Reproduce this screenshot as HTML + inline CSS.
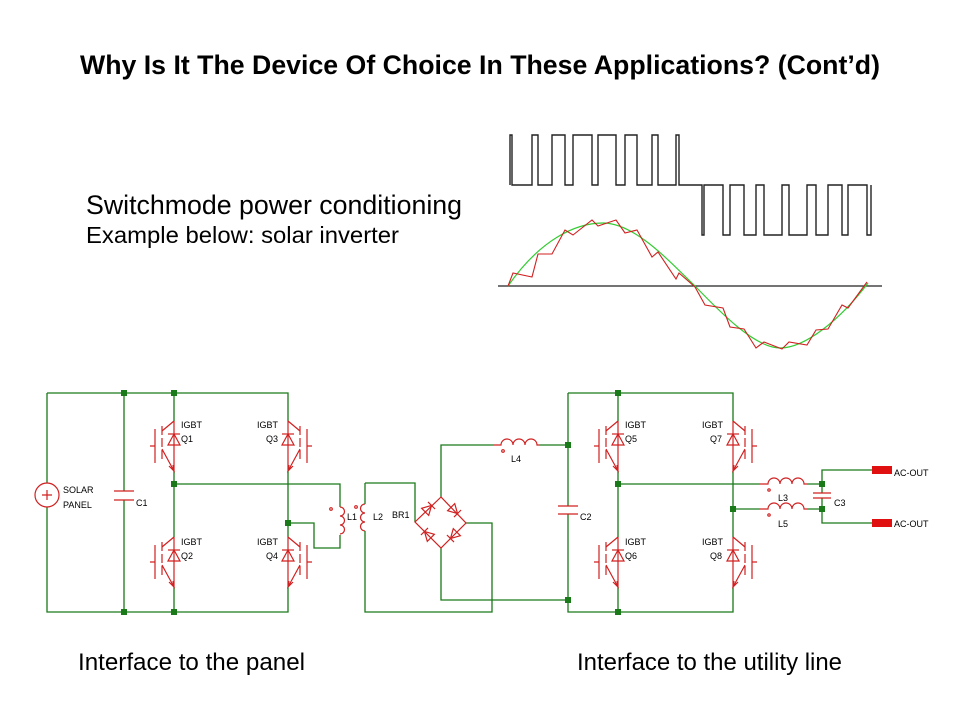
<!DOCTYPE html>
<html><head><meta charset="utf-8"><style>
body{margin:0;background:#fff;width:960px;height:720px;overflow:hidden}
svg{display:block}
.g{stroke:#1a7a1a;stroke-width:1.3;fill:none}
.r{stroke:#d02020;stroke-width:1.2;fill:none}
.t{font-family:"Liberation Sans",sans-serif;fill:#000}
.s{font-family:"Liberation Sans",sans-serif;font-size:9px;fill:#000}
</style></head><body>
<svg width="960" height="720" viewBox="0 0 960 720">
<defs>
<g id="ig">
<path class="r" d="M0,0V50M-12,10L0,0M-12,28L0,50M-5,45L0,50L-1,44M-12,5V14M-12,17V26M-12,29V38M-19,8V42M-24,25H-19"/>
<polygon points="0,13 -6,24 6,24" class="r"/>
<path class="r" d="M-6,13H6"/>
</g>
<g id="dd"><polygon points="0,-5 -5,4 5,4" class="r"/><path class="r" d="M-5,-5H5"/></g>
<rect id="nd" x="-3" y="-3" width="6" height="6" fill="#1a7a1a"/>
</defs>

<text class="t" x="480" y="74" font-size="26.5" font-weight="bold" text-anchor="middle" textLength="800" lengthAdjust="spacingAndGlyphs">Why Is It The Device Of Choice In These Applications? (Cont’d)</text>
<text class="t" x="86" y="214" font-size="27" textLength="376" lengthAdjust="spacingAndGlyphs">Switchmode power conditioning</text>
<text class="t" x="86" y="243" font-size="23" textLength="313" lengthAdjust="spacingAndGlyphs">Example below: solar inverter</text>
<text class="t" x="78" y="670" font-size="24" textLength="227" lengthAdjust="spacingAndGlyphs">Interface to the panel</text>
<text class="t" x="577" y="670" font-size="24" textLength="265" lengthAdjust="spacingAndGlyphs">Interface to the utility line</text>

<!-- square waves -->
<path fill="none" stroke="#222" stroke-width="1.4" d="M510,185V135H512V185H532V135H538V185H552V135H565V185H573V135H592V185H598V135H616V185H625V135H637V185H652V135H658V185H676V135H679V185H702V235H704V185H723V235H730V185H744V235H756V185H764V235H782V185H789V235H807V185H816V235H828V185H842V235H848V185H867V235H871V185"/>
<!-- sine -->
<path d="M498,286H882" stroke="#222" stroke-width="1.3"/>
<path fill="none" stroke="#33cc33" stroke-width="1.2" d="M508,286 C540,240 575,223 603,223 C635,223 670,262 695,286 C720,312 755,348 780,348 C805,348 840,320 868,283"/>
<path fill="none" stroke="#d02020" stroke-width="1.1" d="M508,286L513,273L532,277L538,254L552,254L565,230L573,235L592,220L598,226L616,220L625,233L637,230L652,257L658,252L676,279L679,273L695,287L705,305L723,308L730,327L744,329L756,348L764,342L782,349L789,342L807,345L816,330L828,329L842,305L848,308L867,282"/>

<!-- left circuit wires -->
<path class="g" d="M47,393H288V421M47,393V483M47,507V612H288V587M124,393V491M124,500V612M174,393V421M174,471V537M174,587V612M174,484H340V507M340,535V548H314V523H288M288,471V537"/>
<circle cx="47" cy="495" r="12" class="r"/>
<path class="r" d="M42,495H52M47,490V500M114,491H134M114,500H134"/>
<use href="#nd" x="124" y="393"/><use href="#nd" x="174" y="393"/><use href="#nd" x="124" y="612"/><use href="#nd" x="174" y="612"/><use href="#nd" x="174" y="484"/><use href="#nd" x="288" y="523"/>
<use href="#ig" x="174" y="421"/><use href="#ig" x="174" y="537"/>
<use href="#ig" transform="translate(288,421) scale(-1,1)"/><use href="#ig" transform="translate(288,537) scale(-1,1)"/>
<text class="s" x="63" y="493">SOLAR</text><text class="s" x="63" y="508">PANEL</text><text class="s" x="136" y="506">C1</text>
<text class="s" x="181" y="428">IGBT</text><text class="s" x="181" y="442">Q1</text>
<text class="s" x="181" y="545">IGBT</text><text class="s" x="181" y="559">Q2</text>
<text class="s" x="257" y="428">IGBT</text><text class="s" x="266" y="442">Q3</text>
<text class="s" x="257" y="545">IGBT</text><text class="s" x="266" y="559">Q4</text>

<!-- coils L1 L2 -->
<path class="r" d="M340,507 a4,4 0 0 1 0,9 a4,4 0 0 1 0,9 a4,4 0 0 1 0,9M365,504 a4,4 0 0 0 0,9 a4,4 0 0 0 0,9 a4,4 0 0 0 0,9"/>
<circle cx="331" cy="509" r="1.3" class="r"/><circle cx="356" cy="507" r="1.3" class="r"/>
<text class="s" x="347" y="520">L1</text><text class="s" x="373" y="520">L2</text><text class="s" x="392" y="518">BR1</text>
<path class="g" d="M365,483V504M365,531V612H492V523H466M365,483H415V522M441,497V445H493M540,445H568M441,548V600H568"/>
<!-- bridge -->
<path class="r" d="M441,497L415,522L441,548L466,523Z"/>
<use href="#dd" transform="translate(428,509) rotate(45)"/><use href="#dd" transform="translate(454,510) rotate(-45) scale(1,-1)"/>
<use href="#dd" transform="translate(428,535) rotate(-45)"/><use href="#dd" transform="translate(454,535) rotate(45) scale(1,-1)"/>
<!-- L4 -->
<path class="r" d="M493,445h8a6,6 0 0 1 12,0a6,6 0 0 1 12,0a6,6 0 0 1 12,0h3"/>
<circle cx="503" cy="451" r="1.3" class="r"/>
<text class="s" x="511" y="462">L4</text>

<!-- right circuit -->
<path class="g" d="M568,393H733V421M568,393V506M568,514V612H733V587M618,393V421M618,471V537M618,587V612M618,484H760M807,484H822M733,471V537M733,509H760M807,509H822M822,484V493M822,498V509M822,484V470H872M822,509V523H872"/>
<path class="r" d="M558,506H578M558,514H578M813,493H831M813,498H831"/>
<path class="r" d="M760,484h8a6,6 0 0 1 12,0a6,6 0 0 1 12,0a6,6 0 0 1 12,0h3M760,509h8a6,6 0 0 1 12,0a6,6 0 0 1 12,0a6,6 0 0 1 12,0h3"/>
<circle cx="769" cy="490" r="1.2" class="r"/><circle cx="769" cy="515" r="1.2" class="r"/>
<rect x="872" y="466" width="20" height="8" fill="#e01010"/><rect x="872" y="519" width="20" height="8" fill="#e01010"/>
<use href="#nd" x="568" y="445"/><use href="#nd" x="568" y="600"/><use href="#nd" x="618" y="393"/><use href="#nd" x="618" y="612"/><use href="#nd" x="618" y="484"/><use href="#nd" x="733" y="509"/><use href="#nd" x="822" y="484"/><use href="#nd" x="822" y="509"/>
<use href="#ig" x="618" y="421"/><use href="#ig" x="618" y="537"/>
<use href="#ig" transform="translate(733,421) scale(-1,1)"/><use href="#ig" transform="translate(733,537) scale(-1,1)"/>
<text class="s" x="580" y="520">C2</text>
<text class="s" x="625" y="428">IGBT</text><text class="s" x="625" y="442">Q5</text>
<text class="s" x="625" y="545">IGBT</text><text class="s" x="625" y="559">Q6</text>
<text class="s" x="702" y="428">IGBT</text><text class="s" x="710" y="442">Q7</text>
<text class="s" x="702" y="545">IGBT</text><text class="s" x="710" y="559">Q8</text>
<text class="s" x="778" y="501">L3</text><text class="s" x="778" y="527">L5</text><text class="s" x="834" y="506">C3</text>
<text class="s" x="894" y="476">AC-OUT</text><text class="s" x="894" y="527">AC-OUT</text>
</svg>
</body></html>
